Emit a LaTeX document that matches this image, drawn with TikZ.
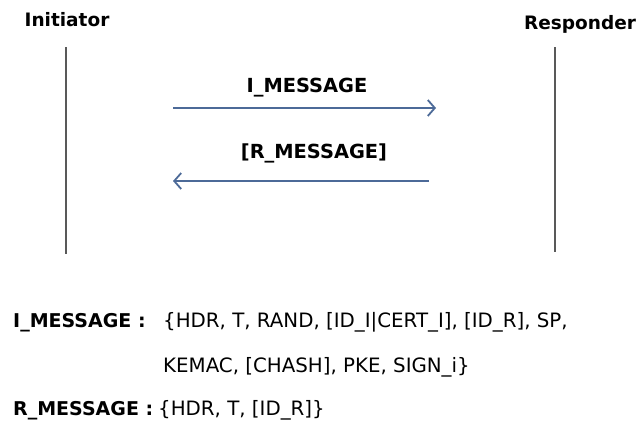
\documentclass[tikz,border=0pt]{standalone}
\usepackage{fontspec}
\setmainfont{DejaVu Sans}
\usetikzlibrary{arrows.meta,positioning}
\definecolor{msgblue}{RGB}{76,106,152}
\tikzset{
    party/.style={anchor=base,inner sep=0pt,font=\bfseries\fontsize{18.5}{22}\selectfont},
    msglabel/.style={anchor=base,inner sep=0pt,font=\bfseries\fontsize{19.4}{22}\selectfont},
    lifeline/.style={draw=black!65,line width=1.4pt},
    msgarrow/.style={draw=msgblue,line width=1.8pt,-{Straight Barb[length=7pt,width=16pt,line width=1.8pt]}},
    defname/.style={anchor=base west,inner sep=0pt,font=\bfseries\fontsize{19}{22}\selectfont},
    deftext/.style={anchor=base west,inner sep=0pt,font=\fontsize{19.8}{22}\selectfont}
}
\begin{document}
\begin{tikzpicture}[x=1pt,y=-1pt]
    \useasboundingbox (0,0) rectangle (637,421);

    \node[party] (ini) at (67,26) {Initiator} ;
    \node[party] (resp) at (580,29) {Responder} ;

    \coordinate (ini_top) at (66,47) ;
    \coordinate (ini_bot) at (66,254) ;
    \coordinate[xshift=489pt] (resp_top) at (ini_top) ;
    \coordinate[xshift=489pt,yshift=2pt] (resp_bot) at (ini_bot) ;

    \draw[lifeline] (ini_top) -- (ini_bot) ;
    \draw[lifeline] (resp_top) -- (resp_bot) ;

    % messages
    \node[msglabel] (imsg_lbl) at (307,92) {I\_MESSAGE} ;
    \node[msglabel] (rmsg_lbl) at (314,158) {[R\_MESSAGE]} ;
    \coordinate (imsg_from) at (173,108) ;
    \coordinate (imsg_to) at (436,108) ;
    \coordinate (rmsg_from) at (429,181) ;
    \coordinate (rmsg_to) at (173,181) ;
    \draw[msgarrow] (imsg_from) -- (imsg_to) ;
    \draw[msgarrow] (rmsg_from) -- (rmsg_to) ;

    % message contents
    \node[defname] (iname) at (13,327) {I\_MESSAGE :} ;
    \node[deftext] (idef) at (163,327) {\{HDR, T, RAND, [ID\_I|CERT\_I], [ID\_R], SP,} ;
    \node[deftext] (idef2) at (163,372) {KEMAC, [CHASH], PKE, SIGN\_i\}} ;
    \node[defname] (rname) at (13,415) {R\_MESSAGE :} ;
    \node[deftext] (rdef) at (158,415) {\{HDR, T, [ID\_R]\}} ;
\end{tikzpicture}
\end{document}
